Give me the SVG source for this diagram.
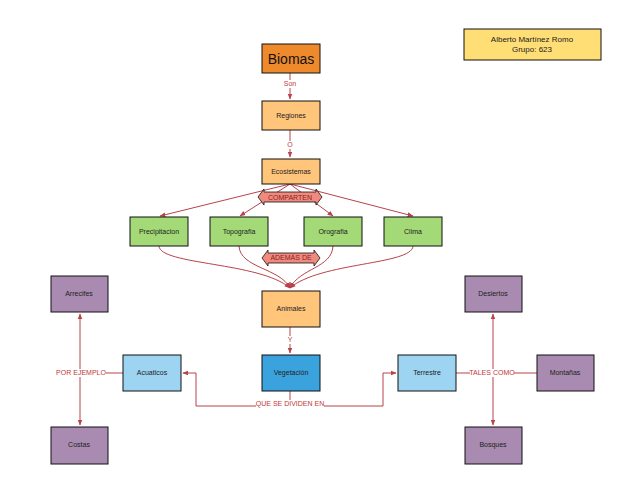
<svg xmlns="http://www.w3.org/2000/svg" width="638" height="493" viewBox="0 0 638 493">
<style>
.b{stroke:#111;stroke-width:1}
.t{font-family:"Liberation Sans",Arial,sans-serif;font-size:7px;fill:#222;text-anchor:middle}
.l{font-family:"Liberation Sans",Arial,sans-serif;font-size:7px;fill:#c0393b;text-anchor:middle}
.c{fill:none;stroke:#b8434a;stroke-width:1}
.or{fill:#ffc57a}.gr{fill:#a3d977}.pu{fill:#a98ab0}.lb{fill:#9dd4f2}
</style>
<defs>
<marker id="a" viewBox="0 0 10 10" refX="9" refY="5" markerWidth="6" markerHeight="6" orient="auto"><path d="M0,1L10,5L0,9z" fill="#b8434a"/></marker>
</defs>
<rect width="638" height="493" fill="#fff"/>
<g id="connectors">
<path class="c" d="M290,73V99" marker-end="url(#a)"/>
<path class="c" d="M290,130V157" marker-end="url(#a)"/>
<path class="c" d="M290,184L160,216" marker-end="url(#a)"/>
<path class="c" d="M290,184L240,216" marker-end="url(#a)"/>
<path class="c" d="M290,184L333,216" marker-end="url(#a)"/>
<path class="c" d="M290,184L413,216" marker-end="url(#a)"/>
<path class="c" d="M159,246C160,265 260,262 290,288" marker-end="url(#a)"/>
<path class="c" d="M239,246C240,268 280,268 290,288" marker-end="url(#a)"/>
<path class="c" d="M333,246C332,268 300,268 290,288" marker-end="url(#a)"/>
<path class="c" d="M413,246C412,265 320,262 290,288" marker-end="url(#a)"/>
<path class="c" d="M290,327V353" marker-end="url(#a)"/>
<path class="c" d="M290,391V406H196V373H183" marker-end="url(#a)"/>
<path class="c" d="M290,406H383V373H396" marker-end="url(#a)"/>
<path class="c" d="M80,373V314" marker-end="url(#a)"/>
<path class="c" d="M80,373V425" marker-end="url(#a)"/>
<path class="c" d="M106,373H123"/>
<path class="c" d="M493,373V314" marker-end="url(#a)"/>
<path class="c" d="M493,373V425" marker-end="url(#a)"/>
<path class="c" d="M456,373H470M514,373H537"/>
<rect x="282" y="80" width="16" height="8" fill="#fff"/><text class="l" x="290" y="86">Son</text>
<rect x="285" y="141" width="10" height="8" fill="#fff"/><text class="l" x="290" y="147">O</text>
<rect x="285" y="336" width="10" height="8" fill="#fff"/><text class="l" x="290" y="342">Y</text>
<rect x="256" y="400" width="68" height="8" fill="#fff"/><text class="l" x="290" y="406">QUE SE DIVIDEN EN</text>
<rect x="56" y="369" width="50" height="8" fill="#fff"/><text class="l" x="81" y="375">POR EJEMPLO</text>
<rect x="470" y="369" width="44" height="8" fill="#fff"/><text class="l" x="492" y="375">TALES COMO</text>
<path d="M258,197L264,189V192H316V189L322,197L316,205V202H264V205Z" fill="#f08a7e" stroke="#111" stroke-width="0.8"/>
<text class="l" x="290" y="200" style="fill:#8a1f22">COMPARTEN</text>
<path d="M262,258L268,250V253H314V250L320,258L314,266V263H268V266Z" fill="#f08a7e" stroke="#111" stroke-width="0.8"/>
<text class="l" x="291" y="260" style="fill:#8a1f22">ADEMÁS DE</text>
</g>
<g id="biomas"><rect class="b" x="262" y="44" width="58" height="29" fill="#ef8a2c"/><text class="t" x="291" y="64" style="font-size:14px;fill:#111">Biomas</text></g>
<g id="regiones"><rect class="b or" x="262" y="101" width="58" height="29"/><text class="t" x="291" y="118">Regiones</text></g>
<g id="ecosistemas"><rect class="b or" x="262" y="159" width="58" height="25"/><text class="t" x="291" y="174">Ecosistemas</text></g>
<g id="precipitacion"><rect class="b gr" x="130" y="217" width="58" height="29"/><text class="t" x="159" y="234">Precipitacion</text></g>
<g id="topografia"><rect class="b gr" x="210" y="217" width="58" height="29"/><text class="t" x="239" y="234">Topografia</text></g>
<g id="orografia"><rect class="b gr" x="304" y="217" width="58" height="29"/><text class="t" x="333" y="234">Orografia</text></g>
<g id="clima"><rect class="b gr" x="384" y="217" width="58" height="29"/><text class="t" x="413" y="234">Clima</text></g>
<g id="animales"><rect class="b or" x="262" y="291" width="58" height="36"/><text class="t" x="291" y="311">Animales</text></g>
<g id="vegetacion"><rect class="b" x="262" y="355" width="58" height="36" fill="#3aa3de"/><text class="t" x="291" y="375">Vegetación</text></g>
<g id="acuaticos"><rect class="b lb" x="123" y="355" width="58" height="36"/><text class="t" x="152" y="375">Acuaticos</text></g>
<g id="terrestre"><rect class="b lb" x="398" y="355" width="58" height="36"/><text class="t" x="427" y="375">Terrestre</text></g>
<g id="arrecifes"><rect class="b pu" x="51" y="276" width="57" height="36"/><text class="t" x="79" y="296">Arrecifes</text></g>
<g id="costas"><rect class="b pu" x="51" y="427" width="57" height="37"/><text class="t" x="79" y="447">Costas</text></g>
<g id="desiertos"><rect class="b pu" x="465" y="276" width="57" height="36"/><text class="t" x="493" y="296">Desiertos</text></g>
<g id="montanas"><rect class="b pu" x="537" y="355" width="57" height="36"/><text class="t" x="565" y="375">Montañas</text></g>
<g id="bosques"><rect class="b pu" x="465" y="427" width="57" height="37"/><text class="t" x="493" y="447">Bosques</text></g>
<g id="autor"><rect class="b" x="464" y="29" width="137" height="31" fill="#ffde75"/><text class="t" x="532" y="42" style="font-size:8px">Alberto Martínez Romo</text><text class="t" x="532" y="52" style="font-size:8px">Grupo: 623</text></g>
</svg>
